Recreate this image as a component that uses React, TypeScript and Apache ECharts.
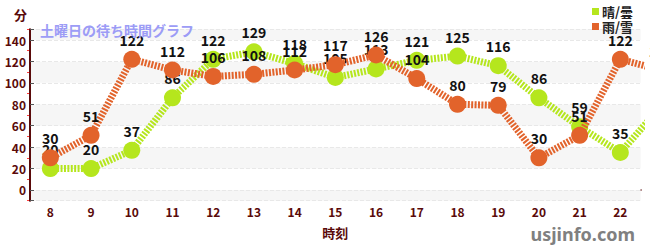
import React, { useEffect, useRef } from "react";
import * as echarts from "echarts";

const hours = ["8", "9", "10", "11", "12", "13", "14", "15", "16", "17", "18", "19", "20", "21", "22"];
// last value belongs to 23h, which lies just beyond the visible axis
const sunny = [20, 20, 37, 86, 122, 129, 118, 105, 113, 121, 125, 116, 86, 59, 35, 78];
const rainy = [30, 51, 122, 112, 106, 108, 112, 117, 126, 104, 80, 79, 30, 51, 122, 112];
const seriesNames = ["晴/曇", "雨/雪"];
const yLabelValues = [0, 20, 40, 60, 80, 100, 120, 140];

const FONT = '"Noto Sans CJK JP", "Noto Sans", sans-serif';
const MAROON = "#5a0a0a";
const GREEN = "#b5e61d";
const ORANGE = "#e2632b";

export default function App() {
  const ref = useRef<HTMLDivElement>(null);
  useEffect(() => {
    if (!ref.current) return;
    const chart = echarts.init(ref.current, undefined, { renderer: "svg" });
    const labelStyle = {
      show: true,
      position: "top" as const,
      distance: 4,
      color: "#111",
      fontWeight: "bold" as const,
      fontSize: 14,
      fontFamily: FONT,
    };
    chart.setOption({
      animation: false,
      textStyle: { fontFamily: FONT },
      title: {
        text: "土曜日の待ち時間グラフ",
        left: 40,
        top: 23,
        padding: 0,
        textStyle: { color: "#9c9cf6", fontSize: 14, fontWeight: "bold", fontFamily: FONT },
      },
      legend: {
        orient: "vertical",
        right: 12,
        top: 0,
        itemWidth: 7,
        itemHeight: 7,
        itemGap: 2,
        icon: "rect",
        data: seriesNames,
        textStyle: { color: "#222", fontSize: 13, fontWeight: "bold", fontFamily: FONT, padding: [0, 0, 0, -2] },
      },
      grid: { left: 30, right: 9.3, top: 29.3, bottom: 49.3, containLabel: false, outerBoundsMode: "none" },
      xAxis: {
        type: "category",
        data: hours,
        max: hours.length - 1,
        boundaryGap: true,
        name: "時刻",
        nameLocation: "middle",
        nameGap: 25,
        nameTextStyle: { color: MAROON, fontSize: 13, fontWeight: "bold", fontFamily: FONT },
        axisLine: { lineStyle: { color: MAROON, width: 2 } },
        axisTick: { alignWithLabel: true, length: 3, lineStyle: { color: "#555" } },
        axisLabel: { color: MAROON, fontSize: 12, fontWeight: "bold", margin: 5, fontFamily: FONT },
        splitLine: { show: true, alignWithLabel: true, lineStyle: { color: "#e4e4e4", type: "dashed" } },
      },
      yAxis: [
        {
          type: "value",
          min: -10,
          max: 150,
          splitNumber: 8,
          name: "分",
          nameLocation: "end",
          nameGap: 8,
          nameTextStyle: { color: MAROON, fontSize: 13, fontWeight: "bold", fontFamily: FONT, align: "right", padding: [0, 3, 0, 0] },
          axisLine: { show: true, lineStyle: { color: MAROON, width: 2 } },
          axisTick: { show: true, inside: true, length: 4, lineStyle: { color: "#555" } },
          axisLabel: {
            color: MAROON,
            fontSize: 12,
            fontWeight: "bold",
            margin: 4,
            fontFamily: FONT,
            formatter: (v: number) => (yLabelValues.indexOf(v) >= 0 ? String(v) : ""),
          },
          splitLine: { show: true, lineStyle: { color: "#e8e8e8", type: "dashed" } },
          splitArea: { show: true, areaStyle: { color: ["#f6f6f6", "#ffffff"] } },
          z: 3,
        },
        {
          type: "value",
          min: -10,
          max: 150,
          interval: 20,
          position: "left",
          axisLine: { show: false },
          axisTick: { show: true, inside: false, length: 3, lineStyle: { color: "#ff3b3b" } },
          axisLabel: { show: false },
          splitLine: { show: false },
          splitArea: { show: false },
          z: 1,
        },
      ],
      series: [
        {
          name: seriesNames[0],
          type: "line",
          data: sunny,
          clip: false,
          showAllSymbol: true,
          symbol: "circle",
          symbolSize: 17,
          itemStyle: { color: GREEN },
          lineStyle: { color: GREEN, width: 7, type: [2, 1.4] },
          label: labelStyle,
          z: 4,
        },
        {
          name: seriesNames[1],
          type: "line",
          data: rainy,
          clip: false,
          showAllSymbol: true,
          symbol: "circle",
          symbolSize: 17,
          itemStyle: { color: ORANGE },
          lineStyle: { color: ORANGE, width: 7, type: [2, 1.4] },
          label: labelStyle,
          z: 5,
        },
      ],
      graphic: [
        {
          type: "text",
          right: 15,
          bottom: 7,
          style: { text: "usjinfo.com", fill: "#808080", font: 'bold 18px "Noto Sans", sans-serif' },
        },
      ],
    });
    return () => chart.dispose();
  }, []);
  return <div ref={ref} style={{ width: 650, height: 250, position: "absolute", left: 0, top: 0 }} />;
}
